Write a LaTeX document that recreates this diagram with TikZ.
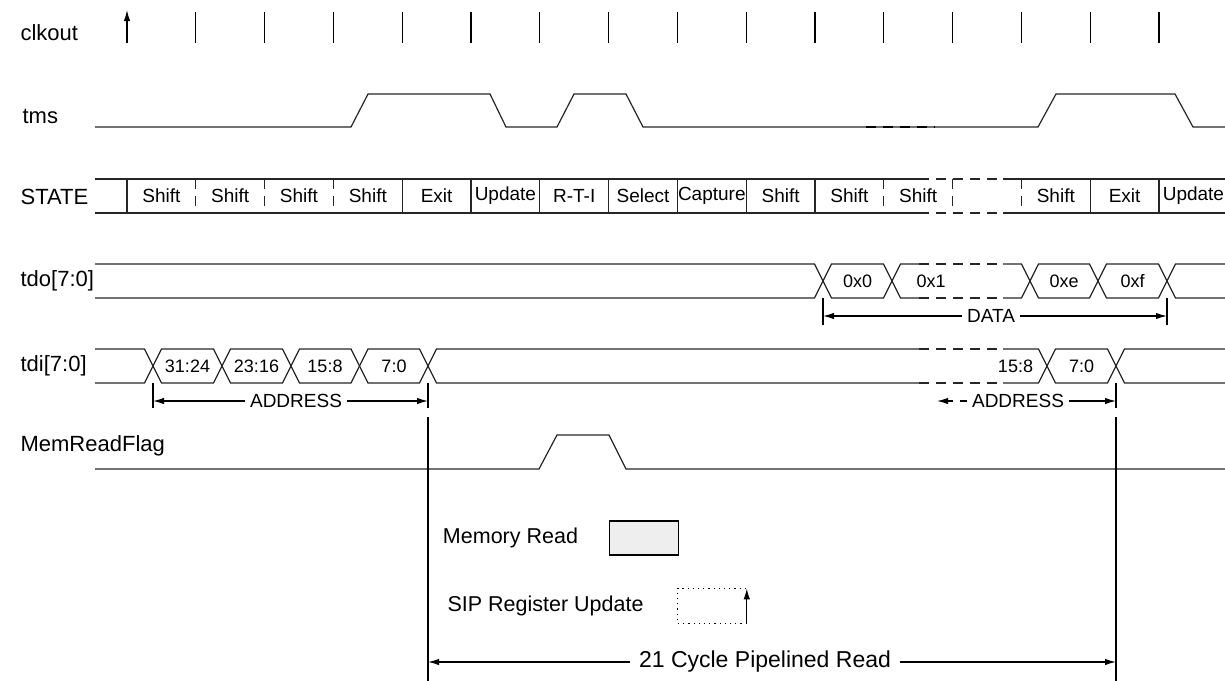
\documentclass[tikz,border=0pt]{standalone}
\usepackage{fontspec}
\setmainfont{Liberation Sans}
\usetikzlibrary{positioning, arrows.meta}

\begin{document}
\begin{tikzpicture}[x=0.5pt, y=-0.5pt, line width=0.6pt, >={Latex[length=5.5pt, width=3.2pt]},
    sig/.style={draw=black!85},
    lbl/.style={anchor=west, inner sep=0pt, font=\fontsize{11}{13}\selectfont},
    cell/.style={font=\fontsize{9.5}{11}\selectfont},
    val/.style={font=\fontsize{9}{11}\selectfont},
    dim/.style={inner sep=2pt, font=\fontsize{9.5}{11}\selectfont},
    legtext/.style={inner sep=0pt, font=\fontsize{10.75}{13}\selectfont},
    gap/.style={dash pattern=on 5pt off 3.5pt}]
    \useasboundingbox (0,0) rectangle (1225,681);

    % Signal names
    \node[lbl] (clkout) at (20,33) {clkout};
    \node[lbl] (tms) at (22,116) {tms};
    \node[lbl] (state) at (20,197) {STATE};
    \node[lbl] (tdo) at (20,281) {tdo[7:0]};
    \node[lbl] (tdi) at (20,366) {tdi[7:0]};
    \node[lbl] (memflag) at (20,446) {MemReadFlag};

    % clkout
    \draw[->] (127,43) -- (127,10);
    \foreach \k in {1,...,15}
        \draw ({127+68.8*\k},12) -- ({127+68.8*\k},43);

    % tms
    \draw[sig] (95,127) -- (351,127) -- (368,94) -- (490,94) -- (506,127) -- (557,127) -- (574,94)
        -- (626,94) -- (643,127) -- (1038,127) -- (1056,94) -- (1175,94) -- (1193,127) -- (1225,127);
    \draw[gap, line width=1.1pt] (866,127) -- (935,127);

    % STATE
    \draw[sig] (95,179) -- (919,179) (1003,179) -- (1225,179);
    \draw[sig] (95,213) -- (919,213) (1003,213) -- (1225,213);
    \draw[sig, gap] (919,179) -- (1003,179) (919,213) -- (1003,213);
    \foreach \k in {0,4,5,6,7,8,9,10,14,15}
        \draw[sig] ({127+68.8*\k},179) -- ({127+68.8*\k},213);
    \foreach \k in {1,2,3,11,12,13}
        \draw[sig, gap] ({127+68.8*\k},179) -- ({127+68.8*\k},213);
    \foreach \k/\t in {0/Shift,1/Shift,2/Shift,3/Shift,4/Exit,5/Update,6/R-T-I,7/Select,
        8/Capture,9/Shift,10/Shift,11/Shift,13/Shift,14/Exit,15/Update}
        \node[cell] at ({161.4+68.8*\k},196) {\t};

    % tdo[7:0]
    \draw[sig] (95,264) -- (814.5,264) -- (831.5,298) -- (883.5,298) -- (900.5,264) -- (919,264);
    \draw[sig] (95,298) -- (814.5,298) -- (831.5,264) -- (883.5,264) -- (900.5,298) -- (919,298);
    \draw[sig, gap] (919,264) -- (1003,264) (919,298) -- (1003,298);
    \draw[sig] (1003,264) -- (1021.5,264) -- (1038.5,298) -- (1089.5,298) -- (1106.5,264)
        -- (1158.5,264) -- (1175.5,298) -- (1225,298);
    \draw[sig] (1003,298) -- (1021.5,298) -- (1038.5,264) -- (1089.5,264) -- (1106.5,298)
        -- (1158.5,298) -- (1175.5,264) -- (1225,264);
    \node[val] at (857.5,281) {0x0};
    \node[val] at (931,281) {0x1};
    \node[val] at (1064,281) {0xe};
    \node[val] at (1132.5,281) {0xf};

    % tdi[7:0]
    \draw[sig] (95,349) -- (144.5,349) -- (161.5,383) -- (213.5,383) -- (230.5,349) -- (282.5,349)
        -- (299.5,383) -- (351,383) -- (368,349) -- (419.5,349) -- (436.5,383) -- (919,383);
    \draw[sig] (95,383) -- (144.5,383) -- (161.5,349) -- (213.5,349) -- (230.5,383) -- (282.5,383)
        -- (299.5,349) -- (351,349) -- (368,383) -- (419.5,383) -- (436.5,349) -- (919,349);
    \draw[sig, gap] (919,349) -- (1003,349) (919,383) -- (1003,383);
    \draw[sig] (1003,383) -- (1038.5,383) -- (1055.5,349) -- (1107.5,349) -- (1124.5,383) -- (1225,383);
    \draw[sig] (1003,349) -- (1038.5,349) -- (1055.5,383) -- (1107.5,383) -- (1124.5,349) -- (1225,349);
    \node[val] at (187.5,366) {31:24};
    \node[val] at (256.5,366) {23:16};
    \node[val] at (325,366) {15:8};
    \node[val] at (394,366) {7:0};
    \node[val] at (1015.5,366) {15:8};
    \node[val] at (1081.5,366) {7:0};

    % MemReadFlag
    \draw[sig] (95,469) -- (539,469) -- (557,435) -- (609,435) -- (626,469) -- (1225,469);

    % DATA span
    \coordinate (d0) at (823,316);
    \coordinate (d1) at (1167,316);
    \draw (823,298) -- (823,325) (1167,298) -- (1167,325);
    \node[dim] (data) at (991,316) {DATA};
    \draw[->] (data) -- (d0);
    \draw[->] (data) -- (d1);

    % ADDRESS spans
    \coordinate (a0) at (153,401);
    \coordinate (a1) at (428,401);
    \coordinate (b0) at (937,401);
    \coordinate (b1) at (1116,401);
    \draw (153,383) -- (153,408);
    \draw (428,383) -- (428,408) (428,417) -- (428,681);
    \draw (1116,383) -- (1116,408) (1116,417) -- (1116,681);
    \node[dim] (addr) at (296,401) {ADDRESS};
    \draw[->] (addr) -- (a0);
    \draw[->] (addr) -- (a1);
    \node[dim] (addrb) at (1018,401) {ADDRESS};
    \draw[->, dash pattern=on 3.5pt off 3.5pt] (addrb) -- (b0);
    \draw[->] (addrb) -- (b1);

    % Legend
    \node[legtext] (memrd) at (510.5,538) {Memory Read};
    \node[draw, fill=gray!13, inner sep=0pt, minimum width=34.5pt, minimum height=17pt,
        right=15pt of memrd] (membox) {};
    \node[legtext] (sipupd) at (545.5,606) {SIP Register Update};
    \node[inner sep=0pt, minimum width=34pt, minimum height=17pt, right=16.75pt of sipupd] (sipbox) {};
    \draw[dotted] (sipbox.south east) -- (sipbox.south west) -- (sipbox.north west) -- (sipbox.north east);
    \draw[->] (sipbox.south east) -- (sipbox.north east);

    % Pipelined read span
    \coordinate (p0) at (428,662);
    \coordinate (p1) at (1116,662);
    \node[inner sep=4pt, font=\fontsize{11.5}{14}\selectfont] (cycles) at (765,662) {21 Cycle Pipelined Read};
    \draw[->] (cycles) -- (p0);
    \draw[->] (cycles) -- (p1);

\end{tikzpicture}
\end{document}
